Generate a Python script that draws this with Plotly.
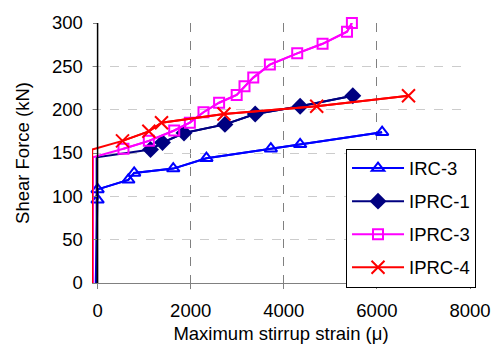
import plotly.graph_objects as go

# Maximum stirrup strain (micro-strain) and shear force (kN) for each specimen.
# The leading points of each series trace the initial elastic rise and carry no marker.
irc3_strain = [-40, 0, 0, 660, 786, 1625, 2338, 3722, 4351, 6112]
irc3_shear = [0, 96, 108, 119, 127, 132, 144, 155, 160, 174]
irc3_plain = 1

iprc1_strain = [-20, -20, 1137, 1394, 1856, 2736, 3386, 4351, 5483]
iprc1_shear = [0, 145, 154, 162, 173, 183, 195, 204, 216]
iprc1_plain = 2

iprc3_strain = [-100, -100, 556, 1101, 1646, 1982, 2275, 2610, 2988, 3156, 3344,
                3701, 4288, 4833, 5358, 5463]
iprc3_shear = [0, 145, 155, 164, 176, 185, 197, 208, 217, 227, 237, 252, 265,
               276, 290, 300]
iprc3_plain = 2

iprc4_strain = [-115, -115, 535, 1101, 1373, 2715, 4707, 6679]
iprc4_shear = [0, 154, 164, 175, 185, 195, 204, 216]
iprc4_plain = 2

x_ticks = [0, 2000, 4000, 6000, 8000]
y_ticks = [0, 50, 100, 150, 200, 250, 300]

FONT = "Liberation Sans, Arial, sans-serif"
FS = 18.5

series = [
    ("IRC-3", irc3_strain, irc3_shear, irc3_plain, "#0000FF",
     dict(symbol="triangle-up-open", size=11, line=dict(width=2, color="#0000FF"))),
    ("IPRC-1", iprc1_strain, iprc1_shear, iprc1_plain, "#000080",
     dict(symbol="diamond", size=13, color="#000080", line=dict(width=0))),
    ("IPRC-3", iprc3_strain, iprc3_shear, iprc3_plain, "#FF00FF",
     dict(symbol="square-open", size=10, line=dict(width=2, color="#FF00FF"))),
    ("IPRC-4", iprc4_strain, iprc4_shear, iprc4_plain, "#FF0000",
     dict(symbol="x-thin-open", size=13, line=dict(width=2, color="#FF0000"))),
]

fig = go.Figure()
for name, xs, ys, plain, color, marker in series:
    # full curve as a plain line
    fig.add_trace(go.Scatter(
        x=xs, y=ys, mode="lines", line=dict(color=color, width=2),
        showlegend=False, legendgroup=name, hoverinfo="skip", cliponaxis=False,
    ))
    # measured points with markers
    fig.add_trace(go.Scatter(
        x=xs[plain:], y=ys[plain:], mode="lines+markers", name=name,
        line=dict(color=color, width=2), marker=marker, legendgroup=name,
        cliponaxis=False,
    ))

# vertical axis line drawn through strain = 0
fig.add_shape(type="line", xref="x", yref="paper", x0=0, x1=0, y0=0, y1=1,
              line=dict(color="black", width=1.5), layer="above")

fig.update_layout(
    width=503, height=352,
    margin=dict(l=92, r=24, t=20, b=69),
    paper_bgcolor="white", plot_bgcolor="white",
    font=dict(family=FONT, size=FS, color="black"),
    showlegend=True,
    legend=dict(
        x=0.672, y=0.517, xanchor="left", yanchor="top",
        bgcolor="white", bordercolor="black", borderwidth=1,
        font=dict(family=FONT, size=FS, color="black"),
        tracegroupgap=6, itemwidth=52,
    ),
    xaxis=dict(
        range=[-120, 8000], tickvals=x_ticks,
        showgrid=True, gridcolor="#808080", griddash="dash", gridwidth=1,
        zeroline=False, showline=True, linecolor="#808080", linewidth=1,
        ticks="outside", ticklen=5, tickcolor="#808080",
        ticklabelstandoff=6,
        title=dict(text="Maximum stirrup strain (μ)", standoff=6,
                   font=dict(family=FONT, size=FS)),
        tickfont=dict(family=FONT, size=FS),
    ),
    yaxis=dict(
        range=[0, 300], tickvals=y_ticks,
        anchor="free", position=0.0146,
        showgrid=True, gridcolor="#cccccc", griddash="dash", gridwidth=1,
        zeroline=False, showline=False,
        ticks="outside", ticklen=5, tickcolor="#808080",
        ticklabelstandoff=6,
        title=dict(text="Shear Force (kN)", standoff=16,
                   font=dict(family=FONT, size=FS)),
        tickfont=dict(family=FONT, size=FS),
    ),
)

fig.write_html("out.html")
